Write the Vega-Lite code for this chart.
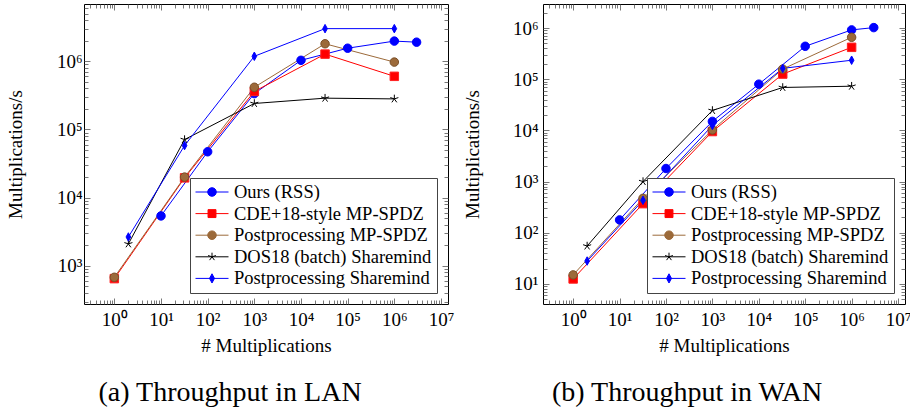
{
  "$schema": "https://vega.github.io/schema/vega-lite/v6.json",
  "background": "white",
  "padding": {"left": 5, "top": 3, "right": 3, "bottom": 3},
  "datasets": {
    "lan": [
      {"series": "Ours (RSS)", "n": 10, "rate": 5400},
      {"series": "Ours (RSS)", "n": 100, "rate": 47000},
      {"series": "Ours (RSS)", "n": 1000, "rate": 335000},
      {"series": "Ours (RSS)", "n": 10000, "rate": 1030000},
      {"series": "Ours (RSS)", "n": 100000, "rate": 1550000},
      {"series": "Ours (RSS)", "n": 1000000, "rate": 1970000},
      {"series": "Ours (RSS)", "n": 3000000, "rate": 1900000},
      {"series": "CDE+18-style MP-SPDZ", "n": 1, "rate": 650},
      {"series": "CDE+18-style MP-SPDZ", "n": 32, "rate": 19500},
      {"series": "CDE+18-style MP-SPDZ", "n": 1000, "rate": 360000},
      {"series": "CDE+18-style MP-SPDZ", "n": 32768, "rate": 1270000},
      {"series": "CDE+18-style MP-SPDZ", "n": 1000000, "rate": 600000},
      {"series": "Postprocessing MP-SPDZ", "n": 1, "rate": 680},
      {"series": "Postprocessing MP-SPDZ", "n": 32, "rate": 20000},
      {"series": "Postprocessing MP-SPDZ", "n": 1000, "rate": 415000},
      {"series": "Postprocessing MP-SPDZ", "n": 32768, "rate": 1800000},
      {"series": "Postprocessing MP-SPDZ", "n": 1000000, "rate": 970000},
      {"series": "DOS18 (batch) Sharemind", "n": 2, "rate": 2100},
      {"series": "DOS18 (batch) Sharemind", "n": 32, "rate": 71000},
      {"series": "DOS18 (batch) Sharemind", "n": 1000, "rate": 240000},
      {"series": "DOS18 (batch) Sharemind", "n": 32768, "rate": 287000},
      {"series": "DOS18 (batch) Sharemind", "n": 1000000, "rate": 280000},
      {"series": "Postprocessing Sharemind", "n": 2, "rate": 2650},
      {"series": "Postprocessing Sharemind", "n": 32, "rate": 58000},
      {"series": "Postprocessing Sharemind", "n": 1000, "rate": 1180000},
      {"series": "Postprocessing Sharemind", "n": 32768, "rate": 3000000},
      {"series": "Postprocessing Sharemind", "n": 1000000, "rate": 3000000}
    ],
    "wan": [
      {"series": "Ours (RSS)", "n": 10, "rate": 178},
      {"series": "Ours (RSS)", "n": 100, "rate": 1800},
      {"series": "Ours (RSS)", "n": 1000, "rate": 15000},
      {"series": "Ours (RSS)", "n": 10000, "rate": 80000},
      {"series": "Ours (RSS)", "n": 100000, "rate": 440000},
      {"series": "Ours (RSS)", "n": 1000000, "rate": 920000},
      {"series": "Ours (RSS)", "n": 3000000, "rate": 1020000},
      {"series": "CDE+18-style MP-SPDZ", "n": 1, "rate": 12.5},
      {"series": "CDE+18-style MP-SPDZ", "n": 32, "rate": 370},
      {"series": "CDE+18-style MP-SPDZ", "n": 1000, "rate": 9500},
      {"series": "CDE+18-style MP-SPDZ", "n": 32768, "rate": 126000},
      {"series": "CDE+18-style MP-SPDZ", "n": 1000000, "rate": 420000},
      {"series": "Postprocessing MP-SPDZ", "n": 1, "rate": 15},
      {"series": "Postprocessing MP-SPDZ", "n": 32, "rate": 470},
      {"series": "Postprocessing MP-SPDZ", "n": 1000, "rate": 10200},
      {"series": "Postprocessing MP-SPDZ", "n": 32768, "rate": 158000},
      {"series": "Postprocessing MP-SPDZ", "n": 1000000, "rate": 660000},
      {"series": "DOS18 (batch) Sharemind", "n": 2, "rate": 55},
      {"series": "DOS18 (batch) Sharemind", "n": 32, "rate": 1000},
      {"series": "DOS18 (batch) Sharemind", "n": 1000, "rate": 24500},
      {"series": "DOS18 (batch) Sharemind", "n": 32768, "rate": 69000},
      {"series": "DOS18 (batch) Sharemind", "n": 1000000, "rate": 73000},
      {"series": "Postprocessing Sharemind", "n": 2, "rate": 28},
      {"series": "Postprocessing Sharemind", "n": 32, "rate": 430},
      {"series": "Postprocessing Sharemind", "n": 1000, "rate": 12500},
      {"series": "Postprocessing Sharemind", "n": 32768, "rate": 163000},
      {"series": "Postprocessing Sharemind", "n": 1000000, "rate": 235000}
    ]
  },
  "config": {
    "view": {"stroke": "#000", "strokeWidth": 1},
    "font": "Liberation Serif",
    "axis": {"grid": false, "domain": false, "labelFont": "Liberation Serif", "labelFontSize": 19, "labelColor": "#000", "titleFont": "Liberation Serif", "titleFontSize": 19, "titleFontWeight": "normal", "titleColor": "#000", "tickColor": "#555", "tickWidth": 0.8, "labelOverlap": false, "labelFlush": false},
    "legend": {"orient": "bottom-right", "offset": 11, "padding": 5, "strokeColor": "#444", "fillColor": "white", "labelFont": "Liberation Serif", "labelFontSize": 18.5, "labelColor": "#000", "labelLimit": 0, "symbolSize": 1089, "symbolStrokeWidth": 1, "clipHeight": 18, "rowPadding": 2.6, "labelOffset": 5},
    "title": {"font": "Liberation Serif", "fontSize": 28, "fontWeight": "normal", "color": "#000"}
  },
  "spacing": 7,
  "resolve": {"scale": {"color": "independent"}, "legend": {"color": "independent"}},
  "hconcat": [
    {
      "width": 364, "height": 300,
      "data": {"name": "lan"},
      "title": {"text": "(a) Throughput in LAN", "orient": "bottom", "anchor": "middle", "frame": "bounds", "offset": 24},
      "resolve": {"axis": {"x": "independent", "y": "independent"}},
      "layer": [
        {
          "mark": {"type": "line", "strokeWidth": 1},
          "encoding": {
            "x": {"field": "n", "type": "quantitative", "scale": {"type": "log", "domain": [0.2239, 14125375], "nice": false}, "axis": {"orient": "bottom", "values": [1, 10, 100, 1000, 10000, 100000, 1000000, 10000000], "labelExpr": "'10' + substring('⁰¹²³⁴⁵⁶⁷', round(log(datum.value)/LN10), round(log(datum.value)/LN10)+1)", "ticks": false, "labelPadding": 6, "title": "# Multiplications", "titlePadding": 7}},
            "y": {"field": "rate", "type": "quantitative", "scale": {"type": "log", "domain": [276, 6890000], "nice": false}, "axis": {"orient": "left", "values": [1000, 10000, 100000, 1000000], "labelExpr": "'10' + substring('⁰¹²³⁴⁵⁶⁷', round(log(datum.value)/LN10), round(log(datum.value)/LN10)+1)", "ticks": false, "labelPadding": 2, "title": "Multiplications/s", "titlePadding": 31}},
            "color": {"field": "series", "type": "nominal", "scale": {"domain": ["Ours (RSS)", "CDE+18-style MP-SPDZ", "Postprocessing MP-SPDZ", "DOS18 (batch) Sharemind", "Postprocessing Sharemind"], "range": ["#0000ff", "#ff0000", "#9c6a3a", "#000000", "#0000ff"]},
              "legend": {"title": null, "encode": {"symbols": {"update": {
                "shape": {"signal": "datum.value == 'Ours (RSS)' || datum.value == 'Postprocessing MP-SPDZ' ? 'M-1,0L1,0M0.26,0A0.26,0.26,0,1,1,-0.26,0A0.26,0.26,0,1,1,0.26,0Z' : datum.value == 'CDE+18-style MP-SPDZ' ? 'M-1,0L1,0M-0.24,-0.24L0.24,-0.24L0.24,0.24L-0.24,0.24Z' : datum.value == 'DOS18 (batch) Sharemind' ? 'M-1,0L1,0M0,0L0,-0.25M0,0L0.238,-0.077M0,0L0.147,0.202M0,0L-0.147,0.202M0,0L-0.238,-0.077' : 'M-1,0L1,0M0,-0.28L0.15,0L0,0.28L-0.15,0Z'"},
                "fill": {"signal": "datum.value == 'CDE+18-style MP-SPDZ' ? '#ff0000' : datum.value == 'Postprocessing MP-SPDZ' ? '#9c6a3a' : datum.value == 'DOS18 (batch) Sharemind' ? '#000000' : '#0000ff'"},
                "opacity": {"value": 1}
              }}}}}
          }
        },
        {
          "mark": {"type": "point", "filled": true, "size": 72, "strokeWidth": 1, "opacity": 1},
          "encoding": {
            "x": {"field": "n", "type": "quantitative", "axis": {"orient": "bottom", "values": [1, 10, 100, 1000, 10000, 100000, 1000000, 10000000], "labels": false, "tickSize": -6, "title": null}},
            "y": {"field": "rate", "type": "quantitative", "axis": {"orient": "left", "values": [1000, 10000, 100000, 1000000], "labels": false, "tickSize": -6, "title": null}},
            "shape": {"field": "series", "type": "nominal", "scale": {"domain": ["Ours (RSS)", "CDE+18-style MP-SPDZ", "Postprocessing MP-SPDZ", "DOS18 (batch) Sharemind", "Postprocessing Sharemind"], "range": ["circle", "square", "circle", "M0,-1L0,0M0.951,-0.309L0,0M0.588,0.809L0,0M-0.588,0.809L0,0M-0.951,-0.309L0,0", "M0,-1L0.55,0L0,1L-0.55,0Z"]}, "legend": null},
            "fill": {"field": "series", "type": "nominal", "scale": {"domain": ["Ours (RSS)", "CDE+18-style MP-SPDZ", "Postprocessing MP-SPDZ", "DOS18 (batch) Sharemind", "Postprocessing Sharemind"], "range": ["#0000ff", "#ff0000", "#9c6a3a", "#000000", "#0000ff"]}, "legend": null},
            "stroke": {"field": "series", "type": "nominal", "scale": {"domain": ["Ours (RSS)", "CDE+18-style MP-SPDZ", "Postprocessing MP-SPDZ", "DOS18 (batch) Sharemind", "Postprocessing Sharemind"], "range": ["#0000ff", "#ff2020", "#7a4f28", "#000000", "#0000ff"]}, "legend": null}
          }
        },
        {
          "mark": {"type": "point", "opacity": 0},
          "encoding": {
            "x": {"field": "n", "type": "quantitative", "axis": {"orient": "bottom", "values": [0.3,0.4,0.5,0.6,0.7,0.8,0.9,2,3,4,5,6,7,8,9,20,30,40,50,60,70,80,90,200,300,400,500,600,700,800,900,2000,3000,4000,5000,6000,7000,8000,9000,20000,30000,40000,50000,60000,70000,80000,90000,200000,300000,400000,500000,600000,700000,800000,900000,2000000,3000000,4000000,5000000,6000000,7000000,8000000,9000000], "labels": false, "tickSize": -4, "title": null}},
            "y": {"field": "rate", "type": "quantitative", "axis": {"orient": "left", "values": [300,400,500,600,700,800,900,2000,3000,4000,5000,6000,7000,8000,9000,20000,30000,40000,50000,60000,70000,80000,90000,200000,300000,400000,500000,600000,700000,800000,900000,2000000,3000000,4000000,5000000,6000000], "labels": false, "tickSize": -4, "title": null}}
          }
        },
        {
          "mark": {"type": "point", "opacity": 0},
          "encoding": {
            "x": {"field": "n", "type": "quantitative", "axis": {"orient": "top", "values": [1, 10, 100, 1000, 10000, 100000, 1000000, 10000000], "labels": false, "tickSize": -6, "title": null}},
            "y": {"field": "rate", "type": "quantitative", "axis": {"orient": "right", "values": [1000, 10000, 100000, 1000000], "labels": false, "tickSize": -6, "title": null}}
          }
        },
        {
          "mark": {"type": "point", "opacity": 0},
          "encoding": {
            "x": {"field": "n", "type": "quantitative", "axis": {"orient": "top", "values": [0.3,0.4,0.5,0.6,0.7,0.8,0.9,2,3,4,5,6,7,8,9,20,30,40,50,60,70,80,90,200,300,400,500,600,700,800,900,2000,3000,4000,5000,6000,7000,8000,9000,20000,30000,40000,50000,60000,70000,80000,90000,200000,300000,400000,500000,600000,700000,800000,900000,2000000,3000000,4000000,5000000,6000000,7000000,8000000,9000000], "labels": false, "tickSize": -4, "title": null}},
            "y": {"field": "rate", "type": "quantitative", "axis": {"orient": "right", "values": [300,400,500,600,700,800,900,2000,3000,4000,5000,6000,7000,8000,9000,20000,30000,40000,50000,60000,70000,80000,90000,200000,300000,400000,500000,600000,700000,800000,900000,2000000,3000000,4000000,5000000,6000000], "labels": false, "tickSize": -4, "title": null}}
          }
        }
      ]
    },
    {
      "width": 362, "height": 300,
      "data": {"name": "wan"},
      "title": {"text": "(b) Throughput in WAN", "orient": "bottom", "anchor": "middle", "frame": "bounds", "offset": 24},
      "resolve": {"axis": {"x": "independent", "y": "independent"}},
      "layer": [
        {
          "mark": {"type": "line", "strokeWidth": 1},
          "encoding": {
            "x": {"field": "n", "type": "quantitative", "scale": {"type": "log", "domain": [0.2239, 14125375], "nice": false}, "axis": {"orient": "bottom", "values": [1, 10, 100, 1000, 10000, 100000, 1000000, 10000000], "labelExpr": "'10' + substring('⁰¹²³⁴⁵⁶⁷', round(log(datum.value)/LN10), round(log(datum.value)/LN10)+1)", "ticks": false, "labelPadding": 6, "title": "# Multiplications", "titlePadding": 7}},
            "y": {"field": "rate", "type": "quantitative", "scale": {"type": "log", "domain": [4.05, 2950000], "nice": false}, "axis": {"orient": "left", "values": [10, 100, 1000, 10000, 100000, 1000000], "labelExpr": "'10' + substring('⁰¹²³⁴⁵⁶⁷', round(log(datum.value)/LN10), round(log(datum.value)/LN10)+1)", "ticks": false, "labelPadding": 5, "title": "Multiplications/s", "titlePadding": 30}},
            "color": {"field": "series", "type": "nominal", "scale": {"domain": ["Ours (RSS)", "CDE+18-style MP-SPDZ", "Postprocessing MP-SPDZ", "DOS18 (batch) Sharemind", "Postprocessing Sharemind"], "range": ["#0000ff", "#ff0000", "#9c6a3a", "#000000", "#0000ff"]},
              "legend": {"title": null, "encode": {"symbols": {"update": {
                "shape": {"signal": "datum.value == 'Ours (RSS)' || datum.value == 'Postprocessing MP-SPDZ' ? 'M-1,0L1,0M0.26,0A0.26,0.26,0,1,1,-0.26,0A0.26,0.26,0,1,1,0.26,0Z' : datum.value == 'CDE+18-style MP-SPDZ' ? 'M-1,0L1,0M-0.24,-0.24L0.24,-0.24L0.24,0.24L-0.24,0.24Z' : datum.value == 'DOS18 (batch) Sharemind' ? 'M-1,0L1,0M0,0L0,-0.25M0,0L0.238,-0.077M0,0L0.147,0.202M0,0L-0.147,0.202M0,0L-0.238,-0.077' : 'M-1,0L1,0M0,-0.28L0.15,0L0,0.28L-0.15,0Z'"},
                "fill": {"signal": "datum.value == 'CDE+18-style MP-SPDZ' ? '#ff0000' : datum.value == 'Postprocessing MP-SPDZ' ? '#9c6a3a' : datum.value == 'DOS18 (batch) Sharemind' ? '#000000' : '#0000ff'"},
                "opacity": {"value": 1}
              }}}}}
          }
        },
        {
          "mark": {"type": "point", "filled": true, "size": 72, "strokeWidth": 1, "opacity": 1},
          "encoding": {
            "x": {"field": "n", "type": "quantitative", "axis": {"orient": "bottom", "values": [1, 10, 100, 1000, 10000, 100000, 1000000, 10000000], "labels": false, "tickSize": -6, "title": null}},
            "y": {"field": "rate", "type": "quantitative", "axis": {"orient": "left", "values": [10, 100, 1000, 10000, 100000, 1000000], "labels": false, "tickSize": -6, "title": null}},
            "shape": {"field": "series", "type": "nominal", "scale": {"domain": ["Ours (RSS)", "CDE+18-style MP-SPDZ", "Postprocessing MP-SPDZ", "DOS18 (batch) Sharemind", "Postprocessing Sharemind"], "range": ["circle", "square", "circle", "M0,-1L0,0M0.951,-0.309L0,0M0.588,0.809L0,0M-0.588,0.809L0,0M-0.951,-0.309L0,0", "M0,-1L0.55,0L0,1L-0.55,0Z"]}, "legend": null},
            "fill": {"field": "series", "type": "nominal", "scale": {"domain": ["Ours (RSS)", "CDE+18-style MP-SPDZ", "Postprocessing MP-SPDZ", "DOS18 (batch) Sharemind", "Postprocessing Sharemind"], "range": ["#0000ff", "#ff0000", "#9c6a3a", "#000000", "#0000ff"]}, "legend": null},
            "stroke": {"field": "series", "type": "nominal", "scale": {"domain": ["Ours (RSS)", "CDE+18-style MP-SPDZ", "Postprocessing MP-SPDZ", "DOS18 (batch) Sharemind", "Postprocessing Sharemind"], "range": ["#0000ff", "#ff2020", "#7a4f28", "#000000", "#0000ff"]}, "legend": null}
          }
        },
        {
          "mark": {"type": "point", "opacity": 0},
          "encoding": {
            "x": {"field": "n", "type": "quantitative", "axis": {"orient": "bottom", "values": [0.3,0.4,0.5,0.6,0.7,0.8,0.9,2,3,4,5,6,7,8,9,20,30,40,50,60,70,80,90,200,300,400,500,600,700,800,900,2000,3000,4000,5000,6000,7000,8000,9000,20000,30000,40000,50000,60000,70000,80000,90000,200000,300000,400000,500000,600000,700000,800000,900000,2000000,3000000,4000000,5000000,6000000,7000000,8000000,9000000], "labels": false, "tickSize": -4, "title": null}},
            "y": {"field": "rate", "type": "quantitative", "axis": {"orient": "left", "values": [5,6,7,8,9,20,30,40,50,60,70,80,90,200,300,400,500,600,700,800,900,2000,3000,4000,5000,6000,7000,8000,9000,20000,30000,40000,50000,60000,70000,80000,90000,200000,300000,400000,500000,600000,700000,800000,900000,2000000], "labels": false, "tickSize": -4, "title": null}}
          }
        },
        {
          "mark": {"type": "point", "opacity": 0},
          "encoding": {
            "x": {"field": "n", "type": "quantitative", "axis": {"orient": "top", "values": [1, 10, 100, 1000, 10000, 100000, 1000000, 10000000], "labels": false, "tickSize": -6, "title": null}},
            "y": {"field": "rate", "type": "quantitative", "axis": {"orient": "right", "values": [10, 100, 1000, 10000, 100000, 1000000], "labels": false, "tickSize": -6, "title": null}}
          }
        },
        {
          "mark": {"type": "point", "opacity": 0},
          "encoding": {
            "x": {"field": "n", "type": "quantitative", "axis": {"orient": "top", "values": [0.3,0.4,0.5,0.6,0.7,0.8,0.9,2,3,4,5,6,7,8,9,20,30,40,50,60,70,80,90,200,300,400,500,600,700,800,900,2000,3000,4000,5000,6000,7000,8000,9000,20000,30000,40000,50000,60000,70000,80000,90000,200000,300000,400000,500000,600000,700000,800000,900000,2000000,3000000,4000000,5000000,6000000,7000000,8000000,9000000], "labels": false, "tickSize": -4, "title": null}},
            "y": {"field": "rate", "type": "quantitative", "axis": {"orient": "right", "values": [5,6,7,8,9,20,30,40,50,60,70,80,90,200,300,400,500,600,700,800,900,2000,3000,4000,5000,6000,7000,8000,9000,20000,30000,40000,50000,60000,70000,80000,90000,200000,300000,400000,500000,600000,700000,800000,900000,2000000], "labels": false, "tickSize": -4, "title": null}}
          }
        }
      ]
    }
  ]
}
